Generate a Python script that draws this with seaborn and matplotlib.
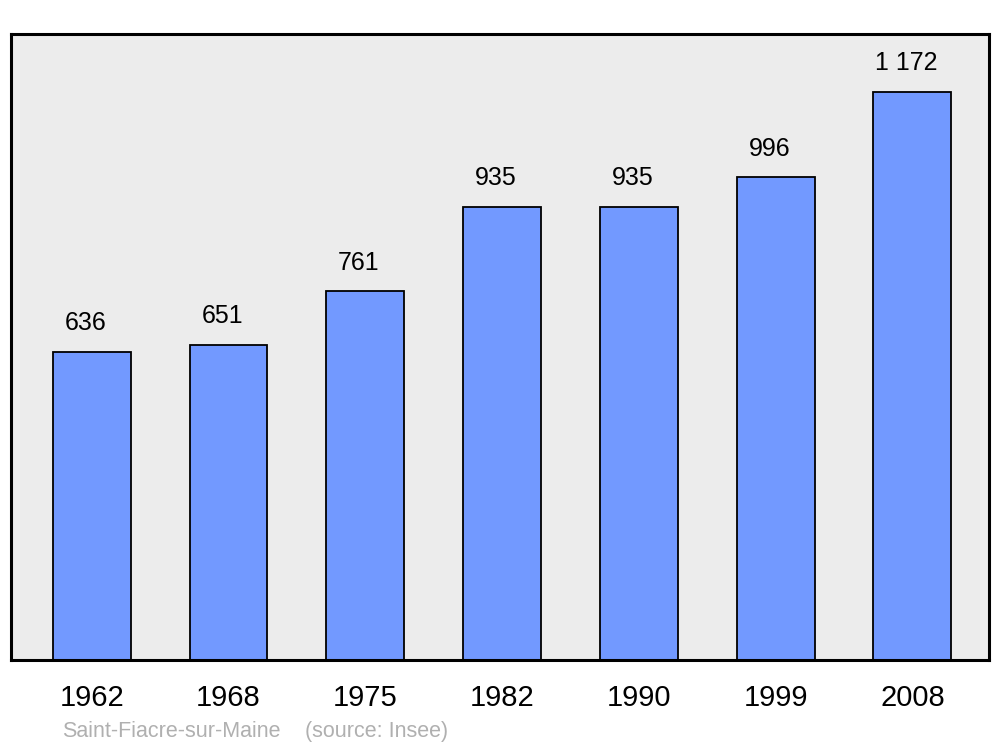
import matplotlib
matplotlib.use('Agg')
from matplotlib import pyplot as plt
import pandas as pd
import seaborn as sns

# Population data
years = ['1962', '1968', '1975', '1982', '1990', '1999', '2008']
population = [636, 651, 761, 935, 935, 996, 1172]
value_labels = ['636', '651', '761', '935', '935', '996', '1 172']

df = pd.DataFrame({'Year': years, 'Population': population})

sns.set_style('white')
plt.rcParams['font.family'] = ['Liberation Sans', 'DejaVu Sans']

fig = plt.figure(figsize=(10, 7.47), dpi=100)
ax = fig.add_axes([0.011, 0.1165, 0.978, 0.838])
ax.set_facecolor('#ececec')

sns.barplot(data=df, x='Year', y='Population', color='#7299ff', width=0.57,
            edgecolor='black', linewidth=1.3, saturation=1, ax=ax)

# value labels sit a little left of the bar centre, as in the original
for patch, label in zip(ax.patches, value_labels):
    ax.annotate(label, (patch.get_x() + patch.get_width() / 2, patch.get_height()),
                xytext=(-4.5, 12), textcoords='offset points',
                ha='center', va='bottom', fontsize=18, color='black')

ax.set_xlim(-0.59, 6.56)
ax.set_ylim(0, 1292)
ax.set_yticks([])
ax.set_xlabel('')
ax.set_ylabel('')
ax.tick_params(axis='x', length=0, pad=17, labelsize=21, labelcolor='black')
for side in ax.spines.values():
    side.set_visible(True)
    side.set_linewidth(2.2)
    side.set_color('black')

fig.text(0.062, 0.013, 'Saint-Fiacre-sur-Maine', fontsize=15.5, color='#b0b0b0')
fig.text(0.305, 0.013, '(source: Insee)', fontsize=15.5, color='#b0b0b0')

plt.savefig('out.png', dpi=100, facecolor='white')
